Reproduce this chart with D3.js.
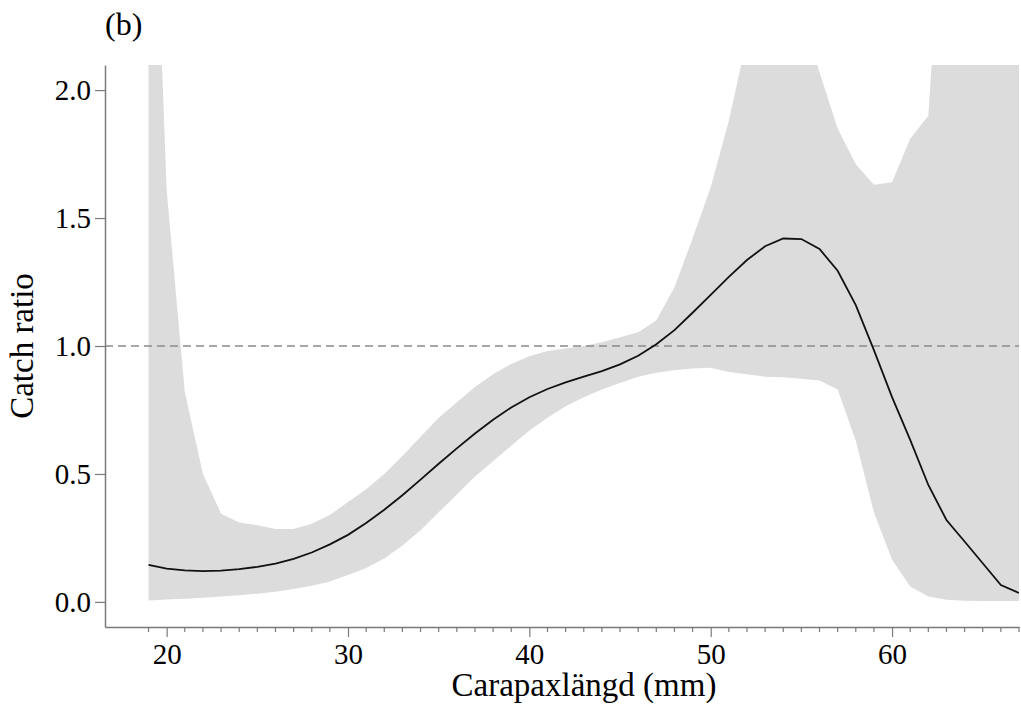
<!DOCTYPE html>
<html lang="en">
<head>
    <meta charset="UTF-8">
    <title>Catch ratio</title>
    <script src="https://d3js.org/d3.v7.min.js"></script>
    <style>
        body { margin: 0; background: #fff; }
    </style>
</head>
<body>
    <div id="chart"></div>

    <script>
        // carapace length (mm)
        const lengths = d3.range(19, 68);

        // fitted catch ratio
        const fit = [0.145, 0.13, 0.123, 0.12, 0.122, 0.128, 0.137, 0.15, 0.168, 0.193,
                     0.225, 0.262, 0.308, 0.36, 0.417, 0.478, 0.54, 0.60, 0.658, 0.712,
                     0.76, 0.80, 0.832, 0.858, 0.88, 0.902, 0.928, 0.962, 1.007, 1.062,
                     1.13, 1.20, 1.27, 1.336, 1.39, 1.42, 1.418, 1.379, 1.294, 1.16,
                     0.984, 0.80, 0.633, 0.457, 0.32, 0.236, 0.151, 0.066, 0.035];

        // upper confidence limit
        const upper = [3.5, 1.61, 0.82, 0.50, 0.345, 0.31, 0.30, 0.285, 0.285, 0.305,
                       0.34, 0.39, 0.44, 0.50, 0.57, 0.645, 0.72, 0.78, 0.84, 0.89,
                       0.93, 0.96, 0.98, 0.99, 1.0, 1.015, 1.034, 1.054, 1.10, 1.23,
                       1.42, 1.62, 1.88, 2.2, 2.4, 2.5, 2.3, 2.07, 1.85, 1.71,
                       1.63, 1.64, 1.81, 1.90, 3.0, 3.5, 4.0, 4.5, 5.0];

        // lower confidence limit
        const lower = [0.006, 0.009, 0.012, 0.016, 0.021, 0.026, 0.032, 0.04, 0.05, 0.063,
                       0.08, 0.105, 0.133, 0.17, 0.22, 0.28, 0.35, 0.42, 0.49, 0.55,
                       0.61, 0.67, 0.72, 0.765, 0.80, 0.83, 0.855, 0.88, 0.895, 0.905,
                       0.912, 0.915, 0.898, 0.89, 0.88, 0.878, 0.872, 0.865, 0.83, 0.63,
                       0.35, 0.165, 0.06, 0.021, 0.008, 0.005, 0.004, 0.004, 0.004];

        const xTicks = [20, 30, 40, 50, 60];
        const yTicks = [0, 0.5, 1, 1.5, 2];

        const width = 1021;
        const height = 708;
        const plotLeft = 105, plotRight = 1019, plotTop = 65, plotBottom = 627;
        const serif = "Liberation Serif, Times New Roman, Times, serif";

        const data = lengths.map((d, i) => ({ x: d, fit: fit[i], lo: lower[i], hi: upper[i] }));

        const x = d3.scaleLinear().domain([16.6, 67]).range([plotLeft, plotRight]);
        const y = d3.scaleLinear().domain([-0.098, 2.098]).range([plotBottom, plotTop]);

        const svg = d3.select("#chart")
            .append("svg")
            .attr("width", width)
            .attr("height", height)
            .attr("font-family", serif);

        svg.append("clipPath")
            .attr("id", "plotClip")
            .append("rect")
            .attr("x", plotLeft)
            .attr("y", plotTop)
            .attr("width", plotRight - plotLeft)
            .attr("height", plotBottom - plotTop);

        const plot = svg.append("g").attr("clip-path", "url(#plotClip)");

        // confidence band
        const area = d3.area()
            .x(d => x(d.x))
            .y0(d => y(d.lo))
            .y1(d => y(d.hi));

        plot.append("path")
            .datum(data)
            .attr("d", area)
            .attr("fill", "#dcdcdc");

        // reference line at 1
        plot.append("line")
            .attr("x1", plotLeft)
            .attr("x2", plotRight)
            .attr("y1", y(1))
            .attr("y2", y(1))
            .attr("stroke", "#8a8a8a")
            .attr("stroke-width", 1.3)
            .attr("stroke-dasharray", "8,5");

        // fitted curve
        const line = d3.line()
            .x(d => x(d.x))
            .y(d => y(d.fit));

        plot.append("path")
            .datum(data)
            .attr("d", line)
            .attr("fill", "none")
            .attr("stroke", "#111")
            .attr("stroke-width", 1.8);

        // axes
        const axisColor = "#7a7a7a";

        const yAxis = svg.append("g")
            .attr("transform", `translate(${plotLeft},0)`)
            .call(d3.axisLeft(y).tickValues(yTicks).tickFormat(d3.format(".1f")).tickSize(10).tickSizeOuter(0).tickPadding(4));

        const xAxis = svg.append("g")
            .attr("transform", `translate(0,${plotBottom})`)
            .call(d3.axisBottom(x).tickValues(xTicks).tickFormat(d3.format("d")).tickSize(10).tickSizeOuter(0).tickPadding(6));

        // minor ticks on x
        svg.append("g")
            .attr("transform", `translate(0,${plotBottom})`)
            .selectAll("line")
            .data(lengths.filter(d => d % 10 !== 0))
            .join("line")
            .attr("x1", d => x(d))
            .attr("x2", d => x(d))
            .attr("y1", 0)
            .attr("y2", 5)
            .attr("stroke", axisColor)
            .attr("stroke-width", 1.2);

        [xAxis, yAxis].forEach(g => {
            g.attr("font-family", serif).attr("font-size", 29);
            g.select(".domain").attr("stroke", axisColor).attr("stroke-width", 1.5);
            g.selectAll(".tick line").attr("stroke", axisColor).attr("stroke-width", 1.2);
            g.selectAll(".tick text").attr("fill", "#000");
        });

        // labels
        svg.append("text")
            .attr("x", (plotLeft + plotRight) / 2 + 22)
            .attr("y", 696)
            .attr("text-anchor", "middle")
            .attr("font-size", 33)
            .text("Carapaxlängd (mm)");

        svg.append("text")
            .attr("transform", `translate(33,${(plotTop + plotBottom) / 2}) rotate(-90)`)
            .attr("text-anchor", "middle")
            .attr("font-size", 33)
            .text("Catch ratio");

        svg.append("text")
            .attr("x", 105)
            .attr("y", 35)
            .attr("font-size", 32)
            .text("(b)");
    </script>
</body>
</html>
